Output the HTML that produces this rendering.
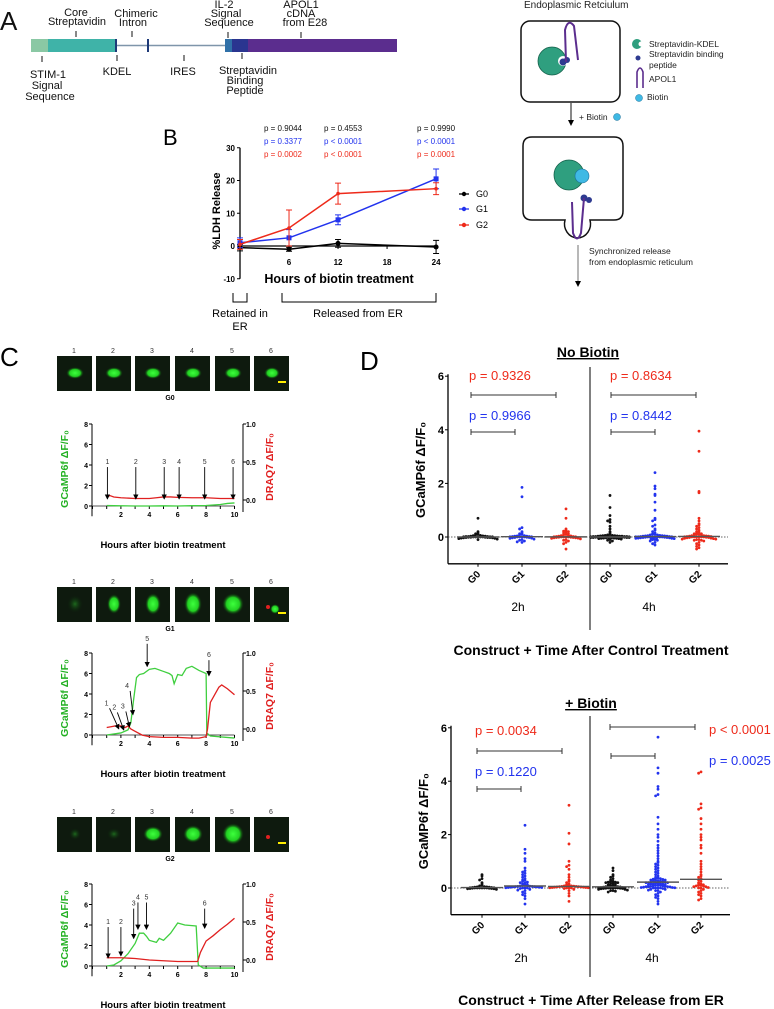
<!DOCTYPE html>
<html><head><meta charset="utf-8"><style>
html,body{margin:0;padding:0;background:#fff}
svg{display:block;font-family:"Liberation Sans",Arial,sans-serif}
</style></head><body>
<svg id="fig" width="774" height="1009" viewBox="0 0 774 1009" xmlns="http://www.w3.org/2000/svg">
<defs>
<radialGradient id="gb" cx="50%" cy="50%" r="50%"><stop offset="0" stop-color="#3dff3d"/><stop offset="0.6" stop-color="#22d022"/><stop offset="1" stop-color="#0a200a" stop-opacity="0"/></radialGradient>
<radialGradient id="gbd" cx="50%" cy="50%" r="50%"><stop offset="0" stop-color="#1e6a1e"/><stop offset="1" stop-color="#0a200a" stop-opacity="0"/></radialGradient>
<marker id="ah" markerWidth="6" markerHeight="6" refX="5" refY="3" orient="auto"><path d="M0,0 L6,3 L0,6 z" fill="#000"/></marker>
</defs>

<!-- Panel A -->
<g font-size="11" fill="#111">
<text x="0" y="30" font-size="26">A</text>
<rect x="31" y="39" width="17" height="13" fill="#8ac8a4"/>
<rect x="48" y="39" width="67" height="13" fill="#3fb3a8"/>
<line x1="115" y1="45.5" x2="225" y2="45.5" stroke="#7f95aa" stroke-width="1.5"/>
<rect x="115" y="39" width="2" height="13" fill="#1e3a78"/>
<rect x="147" y="39" width="2" height="13" fill="#1e3a78"/>
<rect x="225" y="39" width="8" height="13" fill="#2f70a8"/>
<rect x="232" y="39" width="16" height="13" fill="#2a3590"/>
<rect x="248" y="39" width="149" height="13" fill="#5b2d8e"/>
<g stroke="#111" stroke-width="1">
<line x1="76" y1="31" x2="76" y2="37"/><line x1="132" y1="31" x2="132" y2="37"/><line x1="228" y1="32" x2="228" y2="38"/><line x1="301" y1="32" x2="301" y2="38"/>
<line x1="42" y1="56" x2="42" y2="62"/><line x1="117" y1="55" x2="117" y2="61"/><line x1="184" y1="55" x2="184" y2="61"/><line x1="242" y1="53" x2="242" y2="59"/>
</g>
<g text-anchor="middle">
<text x="76" y="16">Core</text><text x="77" y="25">Streptavidin</text>
<text x="136" y="17">Chimeric</text><text x="133" y="26">Intron</text>
<text x="224" y="8">IL-2</text><text x="226" y="17">Signal</text><text x="229" y="26">Sequence</text>
<text x="301" y="8">APOL1</text><text x="301" y="17">cDNA</text><text x="305" y="26">from E28</text>
<text x="48" y="78">STIM-1</text><text x="47" y="89">Signal</text><text x="50" y="100">Sequence</text>
<text x="117" y="75">KDEL</text>
<text x="183" y="75">IRES</text>
<text x="248" y="74">Streptavidin</text><text x="245" y="84">Binding</text><text x="245" y="94">Peptide</text>
</g>
</g>

<!-- Schematic -->
<g font-size="8.5" fill="#222">
<text x="524" y="8" font-size="10">Endoplasmic Retciulum</text>
<rect x="521" y="21" width="99" height="81" rx="9" fill="#fff" stroke="#111" stroke-width="1.5"/>
<circle cx="552" cy="61" r="14" fill="#2f9f7f" stroke="#14604a" stroke-width="0.8"/>
<circle cx="563" cy="61" r="5" fill="#fff"/>
<circle cx="563" cy="62" r="3.5" fill="#2e3a90"/><circle cx="567" cy="60" r="3" fill="#2e3a90"/>
<path d="M566,62 L565,30 Q568,18 574,26 L578,60" fill="none" stroke="#5b2d8e" stroke-width="2"/>
<circle cx="637" cy="44" r="5" fill="#2f9f7f"/><circle cx="641" cy="44" r="2.5" fill="#fff"/><text x="649" y="47">Streptavidin-KDEL</text>
<circle cx="638" cy="58" r="2.5" fill="#2e3a90"/><text x="649" y="57">Streptavidin binding</text><text x="649" y="68">peptide</text>
<path d="M637,88 L637,72 Q640,64 643,72 L643,88" fill="none" stroke="#5b2d8e" stroke-width="1.6"/><text x="649" y="82">APOL1</text>
<circle cx="639" cy="98" r="3.5" fill="#3fb9e4" stroke="#1b6f9a" stroke-width="0.5"/><text x="647" y="100">Biotin</text>
<line x1="571" y1="103" x2="571" y2="125" stroke="#111" stroke-width="1" marker-end="url(#ah)"/>
<text x="579" y="120">+ Biotin</text><circle cx="617" cy="117" r="3.5" fill="#3fb9e4" stroke="#1b6f9a" stroke-width="0.5"/>
<path d="M532,137 L614,137 Q623,137 623,146 L623,211 Q623,220 614,220 L590,220 A13,14 0 1 1 565,220 L532,220 Q523,220 523,211 L523,146 Q523,137 532,137 z" fill="#fff" stroke="#111" stroke-width="1.5"/>
<circle cx="569" cy="175" r="15" fill="#2f9f7f" stroke="#14604a" stroke-width="0.8"/>
<circle cx="582" cy="176" r="7" fill="#3fb9e4" stroke="#1b6f9a" stroke-width="0.6"/>
<circle cx="584" cy="198" r="3.5" fill="#2e3a90"/><circle cx="589" cy="200" r="3" fill="#2e3a90"/>
<path d="M572,202 L573,233 Q577,244 581,233 L584,198" fill="none" stroke="#5b2d8e" stroke-width="2"/>
<line x1="578" y1="245" x2="578" y2="285" stroke="#888" stroke-width="1.2"/>
<path d="M575,281 L578,287 L581,281 z" fill="#000"/>
<text x="589" y="254">Synchronized release</text><text x="589" y="265">from endoplasmic reticulum</text>
</g>

<!-- Panel B -->
<g id="pb">
<text x="163" y="145" font-size="22">B</text>
</g>

<!-- Panel C -->
<g id="pc">
<text x="0" y="366" font-size="26">C</text>
</g>

<!-- Panel D -->
<g id="pd">
<text x="360" y="370" font-size="26">D</text>
</g>
</svg>
<script>
// ===== Panel B data =====
const bHours = [0, 6, 12, 24];
const bG0 = [-0.5, -1, 0.8, -0.3];
const bG0err = [1, 0.6, 1.2, 2];
const bG1 = [1, 2.5, 8, 20.5];
const bG1err = [1.5, 2.5, 1.5, 3];
const bG2 = [0.5, 5.5, 16, 17.5];
const bG2err = [1.5, 5.5, 3.2, 1.8];
const bYTicks = [30, 20, 10, 0, -10];
const bXTicks = [6, 12, 18, 24];
const bPCols = [0, 12, 24];
const bPBlack = ["p = 0.9044", "p = 0.4553", "p = 0.9990"];
const bPBlue = ["p = 0.3377", "p < 0.0001", "p < 0.0001"];
const bPRed = ["p = 0.0002", "p < 0.0001", "p = 0.0001"];

// ===== Panel C data =====
const cG0GreenH = [1, 2, 3, 4, 5, 6, 7, 8, 9, 9.5, 10];
const cG0Green = [0.05, 0.02, 0.0, 0.0, 0.02, 0.0, 0.03, 0.05, 0.15, 0.25, 0.3];
const cG0RedH = [1, 1.2, 1.5, 2, 3, 4, 4.5, 5, 5.5, 6, 7, 8, 9, 10];
const cG0Red = [0.03, 0.06, 0.04, 0.03, 0.02, 0.02, 0.03, 0.04, 0.04, 0.035, 0.03, 0.03, 0.02, 0.02];
const cG0Arrows = [1.05, 3.05, 5.05, 6.1, 7.9, 9.9];
const cG1GreenH = [1, 2, 2.5, 2.7, 2.9, 3.1, 3.3, 3.6, 4, 4.4, 5, 5.4, 5.6, 5.75, 6, 6.3, 6.6, 7, 7.5, 8.0, 8.05, 8.3, 10];
const cG1Green = [0, 0.2, 0.5, 1.2, 3.5, 5.6, 5.9, 6.0, 6.4, 6.5, 6.2, 6.0, 5.8, 5.0, 5.9, 5.8, 6.5, 6.7, 6.3, 6.0, 0.2, -0.1, -0.3];
const cG1RedH = [1, 1.3, 1.6, 2, 2.3, 2.5, 2.7, 3, 3.5, 4, 5, 6, 7, 7.5, 8, 8.1, 8.3, 8.6, 8.9, 9.1, 9.5, 10];
const cG1Red = [0.02, 0.03, 0.04, 0.04, 0.02, 0.04, 0.0, -0.03, -0.08, -0.1, -0.11, -0.11, -0.12, -0.12, -0.1, 0.0, 0.35, 0.45, 0.55, 0.58, 0.53, 0.45];
const cG1ArrowLabels = ["1", "2", "3", "4", "5", "6"];
const cG1ArrowFrom = [[1.2, 2.6], [1.75, 2.2], [2.35, 2.3], [2.65, 4.3], [3.85, 8.9], [8.2, 7.3]];
const cG1ArrowTo = [[1.85, 0.6], [2.2, 0.5], [2.6, 0.8], [2.85, 2.0], [3.85, 6.7], [8.2, 5.8]];
const cG2GreenH = [1, 1.5, 2, 2.5, 3, 3.3, 3.6, 3.8, 4, 4.5, 4.7, 5, 5.5, 6, 6.5, 7.3, 7.45, 7.8, 10];
const cG2Green = [0, 0.1, 0.5, 1.2, 2.2, 3.2, 3.2, 2.9, 2.5, 2.3, 2.7, 2.5, 3.2, 4.2, 4.0, 3.9, 0.1, -0.2, -0.2];
const cG2RedH = [1, 2, 3, 4, 5, 6, 7, 7.4, 7.6, 8, 8.5, 9, 9.5, 10];
const cG2Red = [0.03, 0.03, 0.02, 0.0, -0.01, -0.02, -0.02, -0.02, 0.1, 0.25, 0.32, 0.4, 0.47, 0.55];
const cG2ArrowLabels = ["1", "2", "3", "4", "5", "6"];
const cG2ArrowFrom = [[1.1, 3.8], [2.0, 3.8], [2.9, 5.6], [3.2, 6.2], [3.8, 6.2], [7.9, 5.6]];
const cG2ArrowTo = [[1.1, 0.8], [2.0, 1.0], [2.9, 2.7], [3.2, 3.6], [3.8, 3.6], [7.9, 3.7]];
const cXTicks = [2, 4, 6, 8, 10];
const cLTicks = [0, 2, 4, 6, 8];
const cRTicks = ["0.0", "0.5", "1.0"];

// ===== Panel D data =====
const dCategories = ["G0", "G1", "G2", "G0", "G1", "G2"];
const dYTicks = [0, 2, 4, 6];
const nb2G0 = [0.7,0.2,0.15,0.12,0.1,0.08,0.06,0.05,0.04,0.03,0.02,0.02,0.01,0.01,0,0,0,0,-0.01,-0.01,-0.02,-0.02,-0.03,-0.03,-0.04,-0.05,-0.06,-0.08,-0.1,0.03,0.01,-0.01,0,0.02,-0.02];
const nb2G1 = [1.85,1.5,0.35,0.3,0.2,0.15,0.12,0.1,0.08,0.05,0.04,0.03,0.02,0.01,0,0,0,-0.01,-0.02,-0.03,-0.05,-0.08,-0.1,-0.12,-0.15,-0.18,-0.2,0.02,-0.02,0.01,0,0.03,-0.04];
const nb2G2 = [1.05,0.7,0.3,0.25,0.22,0.2,0.18,0.15,0.12,0.1,0.08,0.06,0.05,0.04,0.03,0.02,0.01,0,0,0,-0.01,-0.02,-0.03,-0.05,-0.07,-0.1,-0.12,-0.15,-0.2,-0.25,-0.45,0,0.01,-0.01,-0.02,-0.03,-0.04,0.02];
const nb4G0 = [1.55,1.1,0.8,0.65,0.6,0.55,0.4,0.3,0.2,0.15,0.1,0.08,0.06,0.05,0.04,0.03,0.02,0.01,0,0,0,0,-0.01,-0.02,-0.03,-0.04,-0.05,-0.06,-0.08,-0.1,-0.12,-0.15,-0.2,0.02,0.01,0,-0.01,-0.02,0.03,0.04,-0.03,-0.04,0,0.01,-0.01,0.02,-0.02,0,0.05,-0.05,0.06,-0.06,0,0.01,-0.01,0.02,-0.02,0.03,-0.03,0];
const nb4G1 = [2.4,1.9,1.8,1.6,1.55,1.3,1.0,0.7,0.65,0.6,0.45,0.4,0.3,0.25,0.2,0.15,0.12,0.1,0.08,0.05,0.04,0.03,0.02,0.01,0,0,0,0,-0.01,-0.02,-0.03,-0.05,-0.06,-0.08,-0.1,-0.12,-0.15,-0.2,-0.25,-0.3,0.02,0.01,-0.01,-0.02,0,0.03,-0.03,0.04,-0.04,0,0.01,-0.05,0.05,-0.06,0.06,-0.08,0.08,-0.1,0.1,0];
const nb4G2 = [3.95,3.2,1.7,1.65,0.7,0.6,0.5,0.45,0.4,0.35,0.3,0.25,0.2,0.18,0.15,0.12,0.1,0.08,0.05,0.03,0.02,0,0,0,-0.02,-0.05,-0.08,-0.1,-0.12,-0.15,-0.2,-0.25,-0.3,-0.35,-0.4,-0.45,0.01,-0.01,0.02,-0.02,0,0.03,-0.03,0.04,-0.04,0,0.05,-0.06,0.06,-0.08,0.1,-0.1,0.12,-0.12,0];
const b2G0 = [0.5,0.45,0.35,0.3,0.2,0.15,0.1,0.08,0.05,0.04,0.03,0.02,0.01,0,0,0,0,-0.01,-0.02,-0.03,-0.05,0.02,0.01,0,-0.01,-0.02,0.03,-0.03,0.04,0];
const b2G1 = [2.35,1.45,1.3,1.1,1.0,0.75,0.65,0.6,0.55,0.5,0.45,0.4,0.35,0.3,0.28,0.25,0.22,0.2,0.18,0.15,0.12,0.1,0.08,0.06,0.05,0.04,0.03,0.02,0.01,0,0,0,-0.02,-0.05,-0.08,-0.1,-0.15,-0.2,-0.25,-0.3,-0.4,-0.6,0.02,0.04,0.06,0.08,0.1,0.03,0.05,0.07];
const b2G2 = [3.1,2.05,1.65,1.0,0.85,0.8,0.7,0.5,0.4,0.3,0.25,0.2,0.15,0.12,0.1,0.08,0.06,0.05,0.04,0.03,0.02,0.01,0,0,0,-0.02,-0.05,-0.1,-0.2,-0.3,-0.5,0.02,0.04,0.06,0.08,0.03,0.05,0.07,0.01,0.09];
const b4G0 = [0.75,0.65,0.5,0.45,0.4,0.35,0.3,0.25,0.22,0.2,0.18,0.15,0.12,0.1,0.08,0.06,0.05,0.04,0.03,0.02,0.01,0,0,0,-0.01,-0.02,-0.03,-0.05,-0.08,-0.1,-0.12,-0.15,0.2,0.22,0.18,0.25,0.02,0,-0.02,0.05,-0.05,0.1,-0.1,0,0.01,-0.01];
const b4G1 = [5.65,4.5,4.3,3.8,3.7,3.5,3.45,2.65,2.4,2.2,2.0,1.9,1.75,1.6,1.5,1.4,1.3,1.2,1.1,1.0,0.95,0.9,0.85,0.8,0.75,0.7,0.65,0.6,0.55,0.5,0.45,0.4,0.38,0.35,0.32,0.3,0.28,0.25,0.22,0.2,0.18,0.15,0.12,0.1,0.08,0.06,0.05,0.04,0.03,0.02,0.01,0,0,0,-0.02,-0.05,-0.08,-0.1,-0.15,-0.2,-0.25,-0.3,-0.35,-0.4,-0.5,-0.6,0.3,0.25,0.2,0.15,0.1,0.05,0,0.22,0.18,0.12,0.08,0.02,-0.05,0.28,0.33,0.15,0.1,0.05,0.35,0.24,0.16,0.06,-0.1,0.2];
const b4G2 = [4.35,4.3,3.15,3.0,2.95,2.6,2.4,2.2,2.0,1.9,1.8,1.6,1.5,1.3,1.0,0.9,0.8,0.7,0.6,0.5,0.45,0.4,0.35,0.3,0.25,0.2,0.15,0.1,0.08,0.05,0.02,0,-0.05,-0.1,-0.15,-0.2,-0.25,-0.3,-0.4,-0.45,0.1,0.05,0,0.15,0.08,0.12];

const NS = "http://www.w3.org/2000/svg";
function el(tag, attrs, parent, text) {
  const e = document.createElementNS(NS, tag);
  for (const k in attrs) e.setAttribute(k, attrs[k]);
  if (text !== undefined) e.textContent = text;
  parent.appendChild(e);
  return e;
}

// ===== Panel B =====
(function () {
  const g = document.getElementById("pb");
  const bx = h => 240 + h * 8.17;
  const by = v => 246 - v * 3.275;
  const ax = el("line", { x1: 240, y1: by(30), x2: 240, y2: by(-10), stroke: "#000", "stroke-width": 1.3 }, g);
  
  
  const xa = el("line", { x1: 240, y1: by(0), x2: bx(24), y2: by(0), stroke: "#000", "stroke-width": 1.3 }, g);
  
  
  bYTicks.forEach(t => {
    el("line", { x1: 237, y1: by(t), x2: 240, y2: by(t), stroke: "#000" }, g);
    const tx = el("text", { x: 235, y: by(t) + 3, "font-size": 8, "font-weight": "bold", "text-anchor": "end" }, g, t);
    
    
  });
  bXTicks.forEach(t => {
    el("line", { x1: bx(t), y1: by(0), x2: bx(t), y2: by(0) + 3, stroke: "#000" }, g);
    const tx = el("text", { x: bx(t), y: 265, "font-size": 8, "font-weight": "bold", "text-anchor": "middle" }, g, t);
    
    
  });
  const yt = el("text", { transform: "translate(220,211) rotate(-90)", "font-size": 11, "font-weight": "bold", "text-anchor": "middle" }, g, "%LDH Release");
  
  
  const xt = el("text", { x: 339, y: 283, "font-size": 12.5, "font-weight": "bold", "text-anchor": "middle" }, g, "Hours of biotin treatment");
  
  
  const series = [[bG0, bG0err, "#000", "g0"], [bG1, bG1err, "#2233ee", "g1"], [bG2, bG2err, "#ee2a1a", "g2"]];
  series.forEach(([vals, errs, col, nm]) => {
    const pl = el("polyline", { points: vals.map((v, i) => bx(bHours[i]) + "," + by(v)).join(" "), fill: "none", stroke: col, "stroke-width": 1.5 }, g);
    
    
    vals.forEach((v, i) => {
      const x = bx(bHours[i]);
      el("path", { d: `M${x},${by(v - errs[i])}V${by(v + errs[i])}M${x - 3},${by(v - errs[i])}H${x + 3}M${x - 3},${by(v + errs[i])}H${x + 3}`, stroke: col, "stroke-width": 1, fill: "none" }, g);
      const m = nm === "g1" ? el("rect", { x: x - 2.5, y: by(v) - 2.5, width: 5, height: 5, fill: col }, g) : el("circle", { cx: x, cy: by(v), r: nm === "g0" ? 2.5 : 1.8, fill: col }, g);
      
      
    });
  });
  bPCols.forEach((h, i) => {
    const x = bx(h) + (i === 0 ? 43 : i === 1 ? 5 : 0);
    [[bPBlack[i], "#111", 131], [bPBlue[i], "#2233ee", 144], [bPRed[i], "#ee2a1a", 157]].forEach(([t, c, y]) => {
      const tx = el("text", { x: x, y: y, "font-size": 8, fill: c, "text-anchor": "middle" }, g, t);
      
      
    });
  });
  [["G0", "#000", 197], ["G1", "#2233ee", 212], ["G2", "#ee2a1a", 228]].forEach(([t, c, y]) => {
    el("line", { x1: 459, y1: y - 3, x2: 469, y2: y - 3, stroke: c, "stroke-width": 1.3 }, g);
    el("circle", { cx: 464, cy: y - 3, r: 2.2, fill: c }, g);
    const tx = el("text", { x: 476, y: y, "font-size": 9 }, g, t);
    
    
  });
  el("path", { d: "M233,293V302H247V293", fill: "none", stroke: "#000" }, g);
  el("path", { d: "M282,293V302H436V293", fill: "none", stroke: "#000" }, g);
  const r1 = el("text", { x: 240, y: 317, "font-size": 11, "text-anchor": "middle" }, g, "Retained in");
  
  
  el("text", { x: 240, y: 330, "font-size": 11, "text-anchor": "middle" }, g, "ER");
  const r2 = el("text", { x: 358, y: 317, "font-size": 11, "text-anchor": "middle" }, g, "Released from ER");
  
  
})();

// ===== Panel C =====
(function () {
  const g = document.getElementById("pc");
  const imgX = [57, 96, 135, 175, 215, 254];
  function imageRow(top, label, kind) {
    imgX.forEach((x, i) => {
      el("text", { x: x + 17, y: top - 3, "font-size": 7, "text-anchor": "middle", fill: "#333" }, g, i + 1);
      const r = el("rect", { x: x, y: top, width: 35, height: 35, fill: "#0e1a0e" }, g);
      
      
      let rx = 8, ry = 6, fill = "url(#gb)";
      if (kind === "g0") { rx = 9; ry = 6; if (i === 5) rx = 8; }
      if (kind === "g1") { const s = [[8, 9, 1], [7, 10, 0], [8, 11, 0], [9, 12, 0], [11, 11, 0], [5, 5, 0]][i]; rx = s[0]; ry = s[1]; if (s[2]) fill = "url(#gbd)"; }
      if (kind === "g2") { const s = [[6, 6, 1], [7, 6, 1], [10, 8, 0], [10, 9, 0], [11, 11, 0], [0, 0, 0]][i]; rx = s[0]; ry = s[1]; if (s[2]) fill = "url(#gbd)"; }
      if (rx > 0) el("ellipse", { cx: x + (i === 5 && kind === "g1" ? 21 : 18), cy: top + (i === 5 && kind === "g1" ? 22 : 17), rx: rx, ry: ry, fill: fill }, g);
      if (i === 5) {
        if (kind !== "g0") el("circle", { cx: x + 14, cy: top + 20, r: 2, fill: "#e02020" }, g);
        el("rect", { x: x + 24, y: top + 25, width: 8, height: 2, fill: "#ffee00" }, g);
      }
    });
    el("text", { x: 170, y: top + 44, "font-size": 7, "font-weight": "bold", "text-anchor": "middle" }, g, label);
  }
  function trace(T, gh, gv, rh, rv, arrows, nm) {
    const X = h => 92.5 + h * 14.2;
    const GY = v => T + 82 - v * 10.25;
    const RY = v => T + 76 - v * 76;
    el("line", { x1: 92, y1: T, x2: 92, y2: GY(-1), stroke: "#000" }, g);
    cLTicks.forEach(t => {
      el("line", { x1: 89, y1: GY(t), x2: 92, y2: GY(t), stroke: "#000" }, g);
      el("text", { x: 88, y: GY(t) + 3, "font-size": 7, "font-weight": "bold", "text-anchor": "end" }, g, t);
    });
    el("line", { x1: 92, y1: GY(0), x2: X(10), y2: GY(0), stroke: "#555" }, g);
    for (let h = 0; h <= 10; h++) el("line", { x1: X(h), y1: GY(0), x2: X(h), y2: GY(0) + 3, stroke: "#000" }, g);
    cXTicks.forEach(t => el("text", { x: X(t), y: GY(0) + 11, "font-size": 7, "font-weight": "bold", "text-anchor": "middle" }, g, t));
    el("line", { x1: 243, y1: T, x2: 243, y2: T + 88, stroke: "#000" }, g);
    cRTicks.forEach((t, i) => {
      el("line", { x1: 243, y1: RY(i * 0.5), x2: 246, y2: RY(i * 0.5), stroke: "#000" }, g);
      el("text", { x: 246, y: RY(i * 0.5) + 3, "font-size": 7, "font-weight": "bold" }, g, t);
    });
    const yl = el("text", { transform: `translate(68,${T + 45}) rotate(-90)`, "font-size": 10.5, "font-weight": "bold", fill: "#22b022", "text-anchor": "middle" }, g, "GCaMP6f ΔF/F₀");
    
    
    const yr = el("text", { transform: `translate(273,${T + 43}) rotate(-90)`, "font-size": 10.5, "font-weight": "bold", fill: "#e02020", "text-anchor": "middle" }, g, "DRAQ7 ΔF/F₀");
    
    
    const gl = el("polyline", { points: gh.map((h, i) => X(h) + "," + GY(gv[i])).join(" "), fill: "none", stroke: "#3fcf3f", "stroke-width": 1.3 }, g);
    
    
    const rl = el("polyline", { points: rh.map((h, i) => X(h) + "," + RY(rv[i])).join(" "), fill: "none", stroke: "#e02020", "stroke-width": 1.3 }, g);
    
    
    arrows.forEach(([lab, f, t]) => {
      const a = el("line", { x1: X(f[0]), y1: GY(f[1]), x2: X(t[0]), y2: GY(t[1]), stroke: "#000", "stroke-width": 0.9, "marker-end": "url(#ah)" }, g);
      
      
      el("text", { x: X(f[0]) - (f[0] === t[0] ? 0 : 3), y: GY(f[1]) - 3, "font-size": 7, fill: "#333", "text-anchor": "middle" }, g, lab);
    });
    const xt = el("text", { x: 163, y: T + 124, "font-size": 9.5, "font-weight": "bold", "text-anchor": "middle" }, g, "Hours after biotin treatment");
    
    
  }
  imageRow(356, "G0", "g0");
  trace(424, cG0GreenH, cG0Green, cG0RedH, cG0Red, cG0Arrows.map((h, i) => [String(i + 1), [h, 3.8], [h, 0.7]]), "g0");
  imageRow(587, "G1", "g1");
  trace(653, cG1GreenH, cG1Green, cG1RedH, cG1Red, cG1ArrowLabels.map((l, i) => [l, cG1ArrowFrom[i], cG1ArrowTo[i]]), "g1");
  imageRow(817, "G2", "g2");
  trace(884, cG2GreenH, cG2Green, cG2RedH, cG2Red, cG2ArrowLabels.map((l, i) => [l, cG2ArrowFrom[i], cG2ArrowTo[i]]), "g2");
})();

// ===== Panel D =====
(function () {
  const g = document.getElementById("pd");
  const cols = ["#111", "#2233ee", "#ee2a1a", "#111", "#2233ee", "#ee2a1a"];
  function median(a) { const s = a.slice().sort((p, q) => p - q); const n = s.length; return n % 2 ? s[(n - 1) / 2] : (s[n / 2 - 1] + s[n / 2]) / 2; }
  function swarm(vals, cx, Y, col) {
    const bins = {};
    vals.slice().sort((a, b) => b - a).forEach(v => {
      const y = Y(v);
      const key = Math.round(y / 2.6);
      const k = bins[key] = (bins[key] || 0) + 1;
      let off = Math.ceil((k - 1) / 2) * 2.4 * ((k % 2) ? 1 : -1);
      if (Math.abs(off) > 20) off = (off % 20);
      const d = el("circle", { cx: cx + off, cy: y, r: 1.4, fill: col }, g);
      
      
    });
    const m = median(vals);
    const ml = el("line", { x1: cx - 21, y1: Y(m), x2: cx + 21, y2: Y(m), stroke: "#555", "stroke-width": 1.4 }, g);
    
    
  }
  function plot(o) {
    const Y = v => o.zero - v * o.unit;
    const t = el("text", { x: o.titleX, y: o.titleY, "font-size": 14, "font-weight": "bold", "text-anchor": "middle", "text-decoration": "underline" }, g, o.title);
    
    
    el("line", { x1: o.ax, y1: Y(6) - 2, x2: o.ax, y2: Y(-1), stroke: "#000", "stroke-width": 1.3 }, g);
    el("line", { x1: o.ax, y1: Y(-1), x2: o.right, y2: Y(-1), stroke: "#000", "stroke-width": 1.3 }, g);
    dYTicks.forEach(tk => {
      el("line", { x1: o.ax - 3, y1: Y(tk), x2: o.ax, y2: Y(tk), stroke: "#000" }, g);
      const tx = el("text", { x: o.ax - 4, y: Y(tk) + 4, "font-size": 11, "font-weight": "bold", "text-anchor": "end" }, g, tk);
      
      
    });
    el("line", { x1: o.ax, y1: Y(0), x2: o.right, y2: Y(0), stroke: "#333", "stroke-width": 0.7, "stroke-dasharray": "1.5,1.5" }, g);
    el("line", { x1: 590, y1: o.divTop, x2: 590, y2: o.divBot, stroke: "#000", "stroke-width": 1 }, g);
    const yl = el("text", { transform: `translate(${o.ax - 23},${Y(2.5)}) rotate(-90)`, "font-size": 13, "font-weight": "bold", "text-anchor": "middle" }, g, "GCaMP6f ΔF/F₀");
    
    
    dCategories.forEach((c, i) => {
      const x = o.xs[i];
      el("line", { x1: x, y1: Y(-1), x2: x, y2: Y(-1) + 3, stroke: "#000" }, g);
      const tx = el("text", { transform: `translate(${x + 3},${Y(-1) + 11}) rotate(-45)`, "font-size": 10, "font-weight": "bold", "text-anchor": "end" }, g, c);
      
      
      swarm(o.data[i], x, Y, cols[i]);
    });
    el("text", { x: o.xs[1] - 4, y: o.hY, "font-size": 12, "text-anchor": "middle" }, g, "2h");
    el("text", { x: o.xs[4] - 6, y: o.hY, "font-size": 12, "text-anchor": "middle" }, g, "4h");
    const xt = el("text", { x: 591, y: o.xTitleY, "font-size": 14, "font-weight": "bold", "text-anchor": "middle" }, g, o.xTitle);
    
    
    o.brackets.forEach(([x1, x2, y]) => el("path", { d: `M${x1},${y - 3}V${y + 3}M${x1},${y}H${x2}M${x2},${y - 3}V${y + 3}`, stroke: "#333", fill: "none", "stroke-width": 1 }, g));
    o.pvals.forEach(([t, c, x, y]) => {
      const tx = el("text", { x: x, y: y, "font-size": 13, fill: c }, g, t);
      
      
    });
  }
  plot({ title: "No Biotin", titleX: 588, titleY: 357, zero: 537, unit: 26.8, ax: 448, right: 728, divTop: 367, divBot: 630,
    xs: [478, 522, 566, 610, 655, 699], data: [nb2G0, nb2G1, nb2G2, nb4G0, nb4G1, nb4G2], hY: 611, xTitle: "Construct + Time After Control Treatment", xTitleY: 655,
    brackets: [[471, 556, 395], [471, 515, 432], [611, 696, 395], [611, 655, 432]],
    pvals: [["p = 0.9326", "#ee2a1a", 469, 380], ["p = 0.9966", "#2233ee", 469, 420], ["p = 0.8634", "#ee2a1a", 610, 380], ["p = 0.8442", "#2233ee", 610, 420]] });
  plot({ title: "+ Biotin", titleX: 591, titleY: 708, zero: 888, unit: 26.7, ax: 451, right: 730, divTop: 716, divBot: 977,
    xs: [482, 525, 569, 613, 658, 701], data: [b2G0, b2G1, b2G2, b4G0, b4G1, b4G2], hY: 962, xTitle: "Construct + Time After Release from ER", xTitleY: 1005,
    brackets: [[477, 562, 751], [477, 521, 789], [610, 695, 727], [611, 655, 756]],
    pvals: [["p = 0.0034", "#ee2a1a", 475, 735], ["p = 0.1220", "#2233ee", 475, 776], ["p < 0.0001", "#ee2a1a", 709, 734], ["p = 0.0025", "#2233ee", 709, 765]] });
})();
</script>
</body></html>
